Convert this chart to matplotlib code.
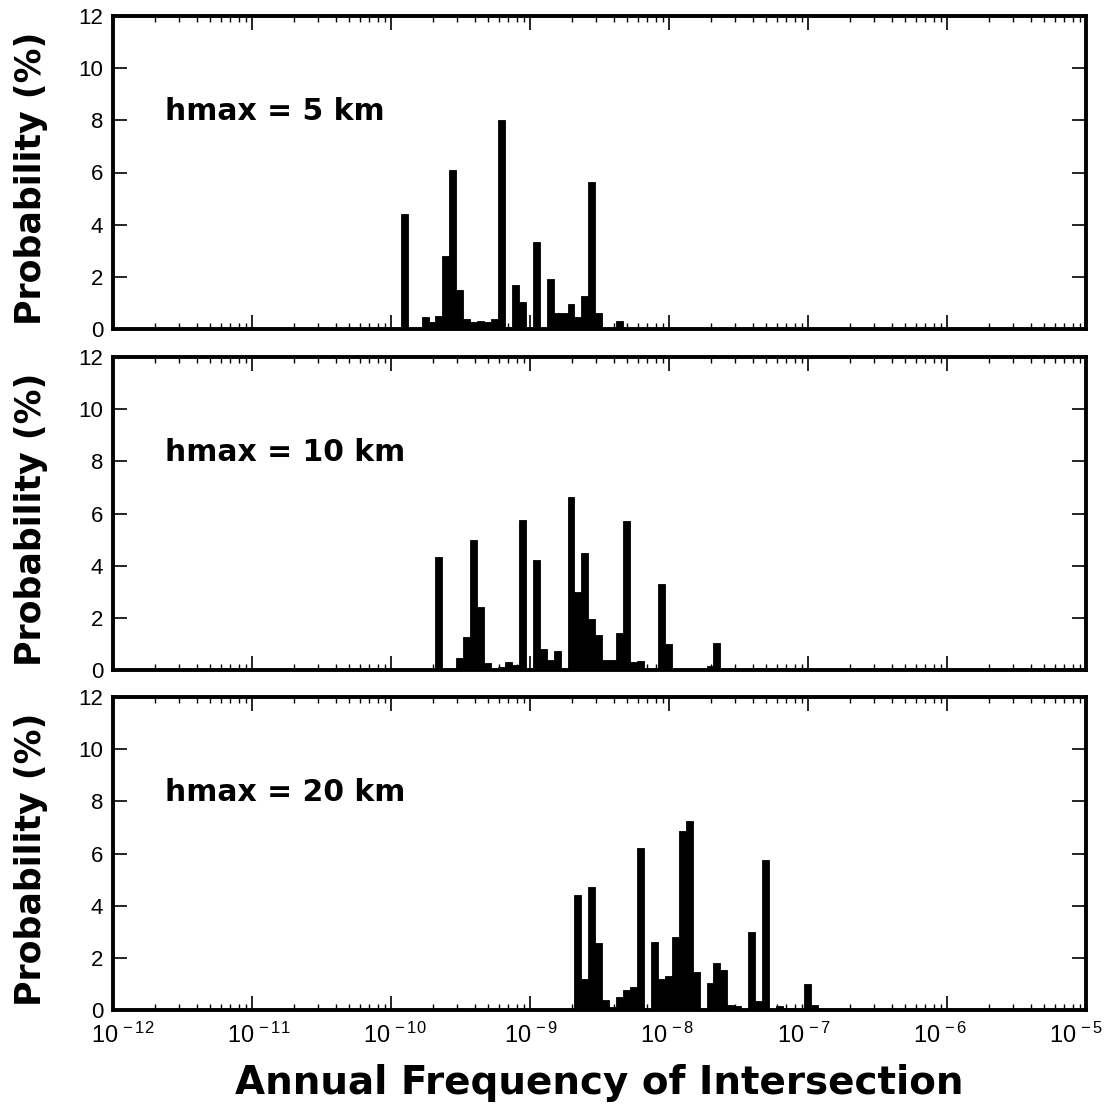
import numpy as np
import matplotlib
matplotlib.use("Agg")
import matplotlib.pyplot as plt
from matplotlib.ticker import LogLocator, NullFormatter, FixedLocator
from matplotlib.transforms import ScaledTranslation, blended_transform_factory

# ---- data: log10 bin centres (annual frequency) and probabilities (%) ----
bin_halfwidth = 0.025  # half bin width in decades

h5_logfreq = [-9.905, -9.755, -9.705, -9.655, -9.605, -9.555, -9.505, -9.455,
              -9.405, -9.355, -9.305, -9.255, -9.205, -9.105, -9.055, -8.955,
              -8.855, -8.805, -8.755, -8.705, -8.655, -8.605, -8.555, -8.505,
              -8.355]
h5_prob = [4.4, 0.45, 0.28, 0.5, 2.8, 6.1, 1.5, 0.38,
           0.28, 0.32, 0.28, 0.38, 8.0, 1.7, 1.05, 3.35,
           1.9, 0.6, 0.6, 0.95, 0.45, 1.25, 5.65, 0.6,
           0.3]

h10_logfreq = [-9.655, -9.505, -9.455, -9.405, -9.355, -9.305, -9.205, -9.155,
               -9.105, -9.055, -8.955, -8.905, -8.855, -8.805, -8.705, -8.655,
               -8.605, -8.555, -8.505, -8.455, -8.405, -8.355, -8.305, -8.255,
               -8.205, -8.055, -8.005, -7.705, -7.655]
h10_prob = [4.35, 0.45, 1.25, 5.0, 2.4, 0.25, 0.1, 0.3,
            0.2, 5.75, 4.2, 0.8, 0.38, 0.72, 6.65, 3.0,
            4.5, 1.95, 1.35, 0.4, 0.4, 1.4, 5.7, 0.3,
            0.35, 3.3, 1.0, 0.15, 1.05]

h20_logfreq = [-8.655, -8.605, -8.555, -8.505, -8.455, -8.405, -8.355, -8.305,
               -8.255, -8.205, -8.105, -8.055, -8.005, -7.955, -7.905, -7.855,
               -7.805, -7.705, -7.655, -7.605, -7.555, -7.505, -7.405, -7.355,
               -7.305, -7.205, -7.155, -7.105, -7.005, -6.955]
h20_prob = [4.4, 1.2, 4.7, 2.55, 0.4, 0.12, 0.5, 0.75,
            0.9, 6.2, 2.6, 1.2, 1.3, 2.8, 6.85, 7.25,
            1.45, 1.05, 1.8, 1.55, 0.2, 0.15, 3.0, 0.35,
            5.75, 0.15, 0.08, 0.08, 1.0, 0.2]

panel_labels = ["hmax = 5 km", "hmax = 10 km", "hmax = 20 km"]
yticks = [0, 2, 4, 6, 8, 10, 12]
x_exponents = [-12, -11, -10, -9, -8, -7, -6, -5]

series = [(h5_logfreq, h5_prob), (h10_logfreq, h10_prob), (h20_logfreq, h20_prob)]

plt.rcParams["mathtext.fontset"] = "custom"
plt.rcParams["mathtext.rm"] = "Liberation Sans"
plt.rcParams["mathtext.it"] = "Liberation Sans"
plt.rcParams["mathtext.bf"] = "Liberation Sans:bold"
plt.rcParams["axes.unicode_minus"] = True

# ---- figure ----
W, H = 1109, 1107
fig = plt.figure(figsize=(W / 100, H / 100), dpi=100)

left, right = 113 / W, 1086 / W
panels_px = [(16, 329), (357, 670), (697, 1010)]

tick_font = "Liberation Sans"
bold_font = "DejaVu Sans"

for i, ((lf, pr), lab, (top, bot)) in enumerate(zip(series, panel_labels, panels_px)):
    ax = fig.add_axes([left, 1 - bot / H, right - left, (bot - top) / H])
    lf = np.array(lf)
    lo = 10 ** (lf - bin_halfwidth)
    hi = 10 ** (lf + bin_halfwidth)
    ax.bar(lo, pr, width=hi - lo, align="edge", color="black",
           edgecolor="black", linewidth=0.6)
    ax.set_xscale("log")
    ax.set_xlim(10.0 ** x_exponents[0], 10.0 ** x_exponents[-1])
    ax.set_ylim(0, 12)
    ax.yaxis.set_major_locator(FixedLocator(yticks))
    ax.set_yticklabels([str(t) for t in yticks], fontfamily=tick_font, fontsize=16)
    ax.xaxis.set_major_locator(FixedLocator([10.0 ** e for e in x_exponents]))
    ax.xaxis.set_minor_locator(LogLocator(base=10, subs=np.arange(2, 10), numticks=50))
    ax.xaxis.set_minor_formatter(NullFormatter())
    ax.set_xticklabels([])
    if i == 2:
        n = len(x_exponents)
        base_tr = blended_transform_factory(ax.transData, ax.transAxes)
        for j, e in enumerate(x_exponents):
            dx_px = 10 - 20 * j / (n - 1)
            tr = base_tr + ScaledTranslation(dx_px / 100, -13 / 100, fig.dpi_scale_trans)
            ax.text(10.0 ** e, 0, r"$\mathrm{10^{\,%d}}$" % e, transform=tr,
                    fontsize=17, ha="center", va="top")
    for s in ax.spines.values():
        s.set_linewidth(2.8)
    ax.tick_params(axis="both", which="major", direction="in", length=10,
                   width=1.2, top=True, right=True, pad=7)
    ax.tick_params(axis="x", which="minor", direction="in", length=4,
                   width=1.0, top=True)
    ax.text(0.053, 0.695, lab, transform=ax.transAxes, fontsize=21.5,
            fontweight="bold", fontfamily=bold_font, va="center", ha="left")
    ax.set_ylabel("Probability (%)", fontsize=25, fontweight="bold",
                  fontfamily=bold_font)
    ax.yaxis.set_label_coords(-(113 - 48) / (1086 - 113), 0.48)
    if i == 2:
        ax.set_xlabel("Annual Frequency of Intersection", fontsize=28,
                      fontweight="bold", fontfamily=bold_font, labelpad=32)

fig.savefig("out.png", dpi=100)
